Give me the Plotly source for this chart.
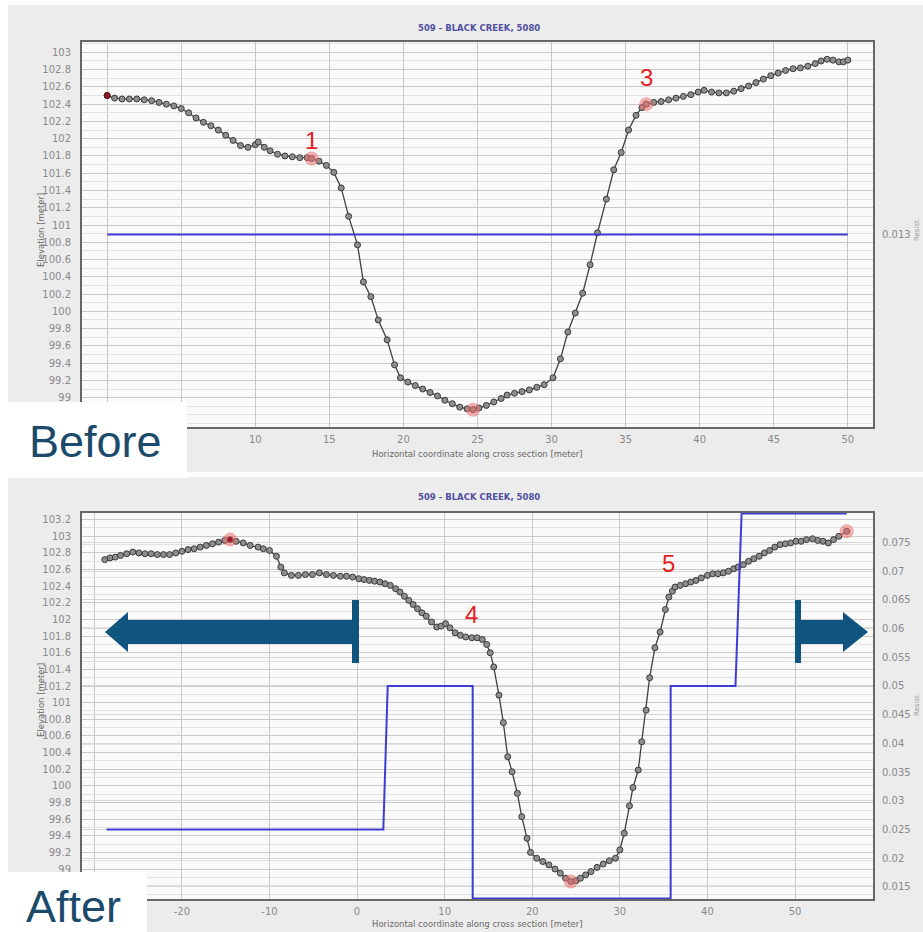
import plotly.graph_objects as go

W, H = 923, 932

# ---------------- data ----------------
before_x = [0.0, 0.5, 1.0, 1.5, 2.0, 2.5, 3.0, 3.5, 4.0, 4.5, 5.0, 5.5, 6.0, 6.5, 7.0, 7.5, 8.0, 8.5,
            9.0, 9.5, 10.0, 10.2, 10.6, 11.0, 11.5, 12.0, 12.5, 13.0, 13.5, 13.8, 14.3, 14.8, 15.3,
            15.8, 16.3, 16.9, 17.3, 17.8, 18.3, 18.9, 19.4, 19.8, 20.3, 20.8, 21.3, 21.8, 22.3, 22.8,
            23.3, 23.8, 24.3, 24.7, 25.1, 25.6, 26.1, 26.6, 27.0, 27.5, 28.0, 28.5, 29.0, 29.5, 30.1,
            30.6, 31.1, 31.6, 32.1, 32.6, 33.1, 33.7, 34.2, 34.7, 35.2, 35.7, 36.1, 36.4, 36.9, 37.4,
            37.9, 38.4, 38.9, 39.4, 39.9, 40.3, 40.8, 41.3, 41.8, 42.3, 42.8, 43.3, 43.8, 44.3, 44.8,
            45.3, 45.8, 46.3, 46.8, 47.3, 47.8, 48.2, 48.6, 49.0, 49.4, 49.7, 50.0]
before_elev = [102.50, 102.47, 102.46, 102.46, 102.46, 102.45, 102.44, 102.42, 102.40, 102.38, 102.35,
               102.30, 102.24, 102.19, 102.15, 102.10, 102.04, 101.98, 101.92, 101.90, 101.93, 101.96,
               101.90, 101.86, 101.82, 101.80, 101.79, 101.78, 101.78, 101.77, 101.74, 101.69, 101.61,
               101.43, 101.10, 100.77, 100.34, 100.17, 99.90, 99.67, 99.38, 99.23, 99.18, 99.14, 99.10,
               99.06, 99.02, 98.97, 98.93, 98.89, 98.87, 98.86, 98.88, 98.91, 98.95, 98.99, 99.03, 99.05,
               99.07, 99.09, 99.12, 99.15, 99.23, 99.45, 99.76, 99.98, 100.21, 100.54, 100.91, 101.30,
               101.64, 101.84, 102.10, 102.27, 102.36, 102.40, 102.42, 102.43, 102.45, 102.47, 102.49,
               102.51, 102.54, 102.56, 102.54, 102.53, 102.53, 102.55, 102.58, 102.61, 102.65, 102.69,
               102.73, 102.76, 102.79, 102.81, 102.82, 102.84, 102.87, 102.90, 102.92, 102.91, 102.89,
               102.89, 102.91]
before_res_x = [0.0, 50.0]
before_res = [0.013, 0.013]

after_x = [-28.8, -28.2, -27.6, -27.0, -26.3, -25.6, -24.9, -24.2, -23.5, -22.8, -22.1, -21.4, -20.7,
           -20.0, -19.3, -18.6, -17.9, -17.2, -16.5, -15.8, -15.1, -14.5, -13.8, -13.0, -12.2, -11.3,
           -10.7, -10.0, -9.2, -8.7, -8.3, -7.5, -6.7, -5.9, -5.1, -4.3, -3.5, -2.7, -1.9, -1.2, -0.5,
           0.2, 0.8, 1.4, 2.0, 2.6, 3.2, 3.8, 4.4, 4.9, 5.4, 5.9, 6.4, 6.9, 7.4, 7.9, 8.5, 9.1, 9.6,
           10.1, 10.6, 11.2, 11.8, 12.4, 13.1, 13.7, 14.3, 14.8, 15.2, 15.6, 16.2, 16.7, 17.2, 17.7,
           18.3, 18.8, 19.4, 19.8, 20.5, 21.2, 21.9, 22.6, 23.2, 23.8, 24.4, 25.0, 25.5, 26.1, 26.7,
           27.4, 28.1, 28.8, 29.5, 30.0, 30.5, 31.1, 31.5, 32.1, 32.5, 33.0, 33.4, 34.0, 34.6, 35.2,
           35.6, 36.0, 36.3, 36.9, 37.5, 38.1, 38.7, 39.3, 40.0, 40.6, 41.2, 41.8, 42.4, 43.0, 43.5,
           44.1, 44.7, 45.3, 45.9, 46.5, 47.1, 47.7, 48.3, 48.9, 49.5, 50.1, 50.7, 51.3, 52.0, 52.6,
           53.2, 53.8, 54.4, 55.0, 55.9]
after_elev = [102.72, 102.74, 102.75, 102.77, 102.79, 102.81, 102.80, 102.79, 102.79, 102.78, 102.78,
              102.78, 102.80, 102.82, 102.84, 102.85, 102.87, 102.89, 102.91, 102.93, 102.95, 102.96,
              102.94, 102.92, 102.89, 102.87, 102.85, 102.83, 102.76, 102.63, 102.56, 102.53, 102.53,
              102.54, 102.54, 102.56, 102.54, 102.53, 102.52, 102.52, 102.51, 102.49, 102.48, 102.47,
              102.46, 102.45, 102.43, 102.41, 102.37, 102.33, 102.28, 102.23, 102.18, 102.13, 102.08,
              102.04, 101.97, 101.91, 101.92, 101.95, 101.90, 101.84, 101.81, 101.79, 101.78, 101.78,
              101.76, 101.70, 101.60, 101.43, 101.09, 100.76, 100.35, 100.17, 99.91, 99.63, 99.37,
              99.20, 99.13, 99.09, 99.05, 99.00, 98.95, 98.89, 98.85, 98.86, 98.89, 98.93, 98.97, 99.02,
              99.06, 99.10, 99.13, 99.23, 99.43, 99.76, 99.98, 100.19, 100.53, 100.91, 101.30, 101.66,
              101.85, 102.12, 102.27, 102.34, 102.39, 102.41, 102.43, 102.45, 102.47, 102.50, 102.53,
              102.55, 102.55, 102.56, 102.58, 102.61, 102.63, 102.66, 102.70, 102.73, 102.76, 102.80,
              102.83, 102.87, 102.90, 102.91, 102.92, 102.94, 102.94, 102.96, 102.97, 102.95, 102.94,
              102.92, 102.96, 103.00, 103.06]
after_res_x = [-28.6, 3.0, 3.5, 13.2, 13.2, 35.8, 35.8, 43.2, 43.9, 55.9]
after_res = [0.025, 0.025, 0.05, 0.05, 0.013, 0.013, 0.05, 0.05, 0.08, 0.08]

before_red_x = [13.8, 24.7, 36.4]
before_labels = [("1", 13.8, 18, 0), ("3", 36.4, 27, 0)]
after_red_x = [-14.5, 24.4, 55.9]
after_cyan_x = [13.1, 36.3]
after_labels = [("4", 13.1, 23, 0), ("5", 36.3, 24, -7)]

# tick labels (only the ones left visible by the label boxes)
before_xticks = [10, 15, 20, 25, 30, 35, 40, 45, 50]
after_xticks = [-20, -10, 0, 10, 20, 30, 40, 50]
before_yticks = [99.0, 99.2, 99.4, 99.6, 99.8, 100.0, 100.2, 100.4, 100.6, 100.8, 101.0, 101.2, 101.4,
                 101.6, 101.8, 102.0, 102.2, 102.4, 102.6, 102.8, 103.0]
after_yticks = before_yticks + [103.2]
right_ticks_after = [0.015, 0.02, 0.025, 0.03, 0.035, 0.04, 0.045, 0.05, 0.055, 0.06, 0.065, 0.07, 0.075]
right_ticks_before = [0.013]

TITLE = "509 - BLACK CREEK, 5080"
XTITLE = "Horizontal coordinate along cross section [meter]"
YTITLE = "Elevation [meter]"
RTITLE = "Resist."


def px(v):
    return v / W


def py(v):
    return 1 - v / H


def pick(xs, ys, sel):
    return [ys[xs.index(s)] for s in sel]


def fmt(v):
    return f"{v:g}"


LINE_C = "#404040"
MK = dict(size=6, color="#8e8e8e", line=dict(color="#3a3a3a", width=1))
BLUE = "#3d3dd6"
RED_HL = dict(size=14, color="rgba(236,110,110,0.55)", line=dict(width=0))
CYAN_HL = dict(size=15, color="rgba(0,0,0,0)", symbol="circle-open",
               line=dict(color="rgba(80,210,210,0.75)", width=2))

fig = go.Figure()

# ---- top (Before) ----
fig.add_trace(go.Scatter(x=before_res_x, y=before_res, mode="lines", xaxis="x", yaxis="y2",
                         line=dict(color=BLUE, width=2), showlegend=False))
fig.add_trace(go.Scatter(x=before_x, y=before_elev, mode="lines+markers", xaxis="x", yaxis="y",
                         line=dict(color=LINE_C, width=1.3), marker=MK, showlegend=False))
fig.add_trace(go.Scatter(x=before_red_x, y=pick(before_x, before_elev, before_red_x), mode="markers",
                         xaxis="x", yaxis="y", marker=RED_HL, showlegend=False))
fig.add_trace(go.Scatter(x=before_x[:1], y=before_elev[:1], mode="markers", xaxis="x", yaxis="y",
                         marker=dict(size=6, color="#8b1a2a", line=dict(color="#5a1010", width=1)),
                         showlegend=False))

# ---- bottom (After) ----
fig.add_trace(go.Scatter(x=after_res_x, y=after_res, mode="lines", xaxis="x2", yaxis="y4",
                         line=dict(color=BLUE, width=2), showlegend=False))
fig.add_trace(go.Scatter(x=after_x, y=after_elev, mode="lines+markers", xaxis="x2", yaxis="y3",
                         line=dict(color=LINE_C, width=1.3), marker=MK, showlegend=False))
fig.add_trace(go.Scatter(x=after_red_x, y=pick(after_x, after_elev, after_red_x), mode="markers",
                         xaxis="x2", yaxis="y3", marker=RED_HL, showlegend=False))
fig.add_trace(go.Scatter(x=after_red_x[:1], y=pick(after_x, after_elev, after_red_x[:1]), mode="markers",
                         xaxis="x2", yaxis="y3",
                         marker=dict(size=5, color="#9b1a2a", line=dict(width=0)), showlegend=False))
fig.add_trace(go.Scatter(x=after_cyan_x, y=pick(after_x, after_elev, after_cyan_x), mode="markers",
                         xaxis="x2", yaxis="y3", marker=CYAN_HL, showlegend=False))

TF = dict(family="DejaVu Sans", size=10, color="#8a8a8a")
GRID = "#c9c9c9"
MINOR = "#e2e2e2"
FRAME = dict(showline=True, mirror=True, linecolor="#666666", linewidth=2)

xdom = [px(82), px(873)]
common_x = dict(domain=xdom, showgrid=True, gridcolor=GRID, gridwidth=1, zeroline=False,
                tickfont=TF, ticks="", ticklabelstandoff=2, **FRAME)
common_y = dict(showgrid=True, gridcolor=GRID, zeroline=False, tickfont=TF, ticks="",
                ticklabelstandoff=7,
                minor=dict(tick0=99, dtick=0.1, showgrid=True, gridcolor=MINOR, gridwidth=1), **FRAME)

fig.update_layout(
    width=W, height=H, autosize=False,
    margin=dict(l=0, r=0, t=0, b=0),
    paper_bgcolor="#ececec", plot_bgcolor="#fafafa",
    xaxis=dict(range=[-1.7, 51.7], anchor="y", tickvals=before_xticks,
               ticktext=[fmt(v) for v in before_xticks],
               minor=dict(tick0=0, dtick=5, showgrid=True, gridcolor=GRID), **common_x),
    yaxis=dict(domain=[py(427), py(42)], range=[98.66, 103.12], anchor="x", tickvals=before_yticks,
               ticktext=[fmt(v) for v in before_yticks], **common_y),
    yaxis2=dict(overlaying="y", side="right", anchor="x", range=[0.012, 0.014],
                tickvals=right_ticks_before, showgrid=False, zeroline=False, tickfont=TF,
                ticks="", ticklabelstandoff=8),
    xaxis2=dict(range=[-31.4, 58.9], anchor="y3", tickvals=after_xticks,
                ticktext=[fmt(v) for v in after_xticks],
                minor=dict(tick0=0, dtick=10, showgrid=True, gridcolor=GRID), **common_x),
    yaxis3=dict(domain=[py(899), py(513)], range=[98.64, 103.28], anchor="x2", tickvals=after_yticks,
                ticktext=[fmt(v) for v in after_yticks], **common_y),
    yaxis4=dict(overlaying="y3", side="right", anchor="x2", range=[0.0129, 0.0801],
                tickvals=right_ticks_after, showgrid=True, gridcolor="#d6d6d6", zeroline=False,
                tickfont=TF, ticks="", ticklabelstandoff=8),
)

shapes = []
WHITE = dict(fillcolor="white", line=dict(width=0), layer="above", xref="paper", yref="paper")
# white margins / gap around the two panels
shapes.append(dict(type="rect", x0=0, x1=1, y0=py(5), y1=1, **WHITE))
shapes.append(dict(type="rect", x0=0, x1=px(8), y0=0, y1=1, **WHITE))
shapes.append(dict(type="rect", x0=0, x1=1, y0=py(477), y1=py(472), **WHITE))
# white label boxes
shapes.append(dict(type="rect", x0=0, x1=px(187), y0=py(478), y1=py(402), **WHITE))
shapes.append(dict(type="rect", x0=0, x1=px(147), y0=0, y1=py(872), **WHITE))

ARROW = "#0f5580"


def path(points):
    s = "M " + " L ".join(f"{px(a):.5f},{py(b):.5f}" for a, b in points) + " Z"
    return s


# left arrow
shapes.append(dict(type="path", xref="paper", yref="paper", layer="above", fillcolor=ARROW,
                   line=dict(width=0),
                   path=path([(105, 632), (128, 612), (128, 620), (353, 620), (353, 644), (128, 644),
                              (128, 652)])))
shapes.append(dict(type="rect", xref="paper", yref="paper", layer="above", fillcolor=ARROW,
                   line=dict(width=0), x0=px(352), x1=px(359), y0=py(663), y1=py(600)))
# right arrow
shapes.append(dict(type="rect", xref="paper", yref="paper", layer="above", fillcolor=ARROW,
                   line=dict(width=0), x0=px(795), x1=px(801), y0=py(663), y1=py(600)))
shapes.append(dict(type="path", xref="paper", yref="paper", layer="above", fillcolor=ARROW,
                   line=dict(width=0),
                   path=path([(801, 620), (843, 620), (843, 612), (868, 632), (843, 652), (843, 644),
                              (801, 644)])))
fig.update_layout(shapes=shapes)

ann = []
TITLE_F = dict(family="DejaVu Sans", size=8.5, color="#5050a0")
AX_F = dict(family="DejaVu Sans", size=8.5, color="#6a6a6a")
for ty, xty, yty in [(28, 454, 230), (497, 924, 700)]:
    ann.append(dict(text=f"<b>{TITLE}</b>", x=px(479), y=py(ty), xref="paper", yref="paper",
                    showarrow=False, font=TITLE_F, xanchor="center", yanchor="middle"))
    ann.append(dict(text=XTITLE, x=px(478), y=py(xty), xref="paper", yref="paper",
                    showarrow=False, font=AX_F, xanchor="center", yanchor="middle"))
    ann.append(dict(text=YTITLE, x=px(41), y=py(yty), xref="paper", yref="paper", textangle=-90,
                    showarrow=False, font=AX_F, xanchor="center", yanchor="middle"))
ann.append(dict(text=RTITLE, x=px(917), y=py(230), xref="paper", yref="paper", textangle=-90,
                showarrow=False, font=dict(family="DejaVu Sans", size=7, color="#9a9a9a"),
                xanchor="center", yanchor="middle"))
ann.append(dict(text=RTITLE, x=px(917), y=py(705), xref="paper", yref="paper", textangle=-90,
                showarrow=False, font=dict(family="DejaVu Sans", size=7, color="#9a9a9a"),
                xanchor="center", yanchor="middle"))

BIG = dict(family="Liberation Sans, Arial", size=45, color="#1b4a6b")
ann.append(dict(text="Before", x=px(27), y=py(441), xref="paper", yref="paper", showarrow=False,
                font=BIG, xanchor="left", yanchor="middle"))
ann.append(dict(text="After", x=px(24), y=py(906), xref="paper", yref="paper", showarrow=False,
                font=BIG, xanchor="left", yanchor="middle"))

RED_F = dict(family="Liberation Sans Narrow, Liberation Sans, Arial", size=24, color="#e52025")
for t, xv, ys, xs in before_labels:
    ann.append(dict(text=t, x=xv, y=before_elev[before_x.index(xv)], xref="x", yref="y",
                    showarrow=False, font=RED_F, yshift=ys, xshift=xs))
for t, xv, ys, xs in after_labels:
    ann.append(dict(text=t, x=xv, y=after_elev[after_x.index(xv)], xref="x2", yref="y3",
                    showarrow=False, font=RED_F, yshift=ys, xshift=xs))
fig.update_layout(annotations=ann)

fig.write_html("out.html", config={"displayModeBar": False},
               post_script="document.body.style.margin='0';document.body.style.overflow='hidden';")
